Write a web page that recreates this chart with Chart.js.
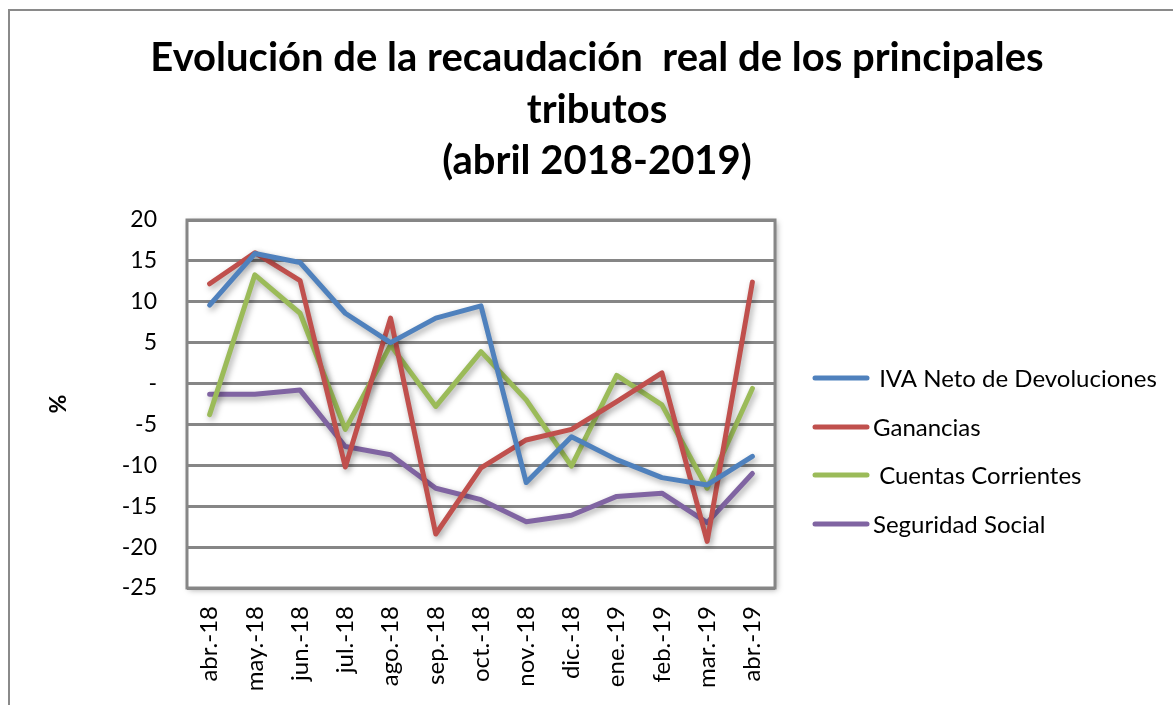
<!DOCTYPE html>
<html>
<head>
<meta charset="utf-8">
<script src="https://cdn.jsdelivr.net/npm/chart.js@4.4.1/dist/chart.umd.min.js"></script>
<style>
  html, body { margin: 0; padding: 0; background: #fff; }
  #wrap { width: 1174px; height: 705px; }
</style>
</head>
<body>
<div id="wrap"><canvas id="myChart" width="1174" height="705"></canvas></div>
<script>
// Data
const months = ['abr.-18', 'may.-18', 'jun.-18', 'jul.-18', 'ago.-18', 'sep.-18', 'oct.-18',
                'nov.-18', 'dic.-18', 'ene.-19', 'feb.-19', 'mar.-19', 'abr.-19'];
const ivaNeto = [9.6, 15.9, 14.8, 8.6, 5.0, 8.0, 9.5, -12.1, -6.5, -9.3, -11.5, -12.4, -8.9];
const ganancias = [12.2, 16.0, 12.6, -10.2, 8.0, -18.4, -10.3, -6.9, -5.6, -2.2, 1.3, -19.3, 12.4];
const cuentasCorrientes = [-3.8, 13.3, 8.6, -5.6, 4.7, -2.8, 3.9, -2.0, -10.1, 1.0, -2.6, -12.8, -0.6];
const seguridadSocial = [-1.3, -1.3, -0.8, -7.7, -8.7, -12.8, -14.2, -16.9, -16.1, -13.8, -13.4, -17.0, -11.0];
const seriesNames = [' IVA Neto de Devoluciones', 'Ganancias', ' Cuentas Corrientes', 'Seguridad Social'];
const titleLines = ['Evolución de la recaudación  real de los principales', 'tributos', '(abril 2018-2019)'];

const colors = ['#4F81BD', '#C0504D', '#9BBB59', '#8064A2'];
const FONT = 'Lato, "Open Sans", sans-serif';

function makeSet(i, data) {
    return {
        label: seriesNames[i],
        data: data,
        borderColor: colors[i],
        backgroundColor: colors[i],
        borderWidth: 5,
        pointRadius: 0,
        tension: 0,
        borderCapStyle: 'round',
        borderJoinStyle: 'round'
    };
}

// Frame, plot box, title and legend drawn like the spreadsheet chart
const decor = {
    id: 'decor',
    beforeDraw(chart) {
        const ctx = chart.ctx;
        const a = chart.chartArea;
        ctx.save();
        ctx.fillStyle = '#fff';
        ctx.fillRect(0, 0, chart.width, chart.height);
        // outer frame (top and left only visible)
        ctx.strokeStyle = '#8a8a8a';
        ctx.lineWidth = 2;
        ctx.beginPath();
        ctx.moveTo(9, 705);
        ctx.lineTo(9, 10);
        ctx.lineTo(1173, 10);
        ctx.stroke();
        // plot box with shadow
        ctx.shadowColor = 'rgba(0,0,0,0.35)';
        ctx.shadowBlur = 6;
        ctx.shadowOffsetX = 2;
        ctx.shadowOffsetY = 2;
        ctx.fillRect(a.left, a.top, a.right - a.left, a.bottom - a.top);
        ctx.restore();

        // title
        ctx.save();
        ctx.fillStyle = '#000';
        ctx.font = 'bold 40px ' + FONT;
        ctx.textAlign = 'center';
        ctx.textBaseline = 'middle';
        const ys = [58, 110, 161];
        titleLines.forEach((t, i) => ctx.fillText(t, 597, ys[i]));
        ctx.restore();
    },
    beforeDatasetsDraw(chart) {
        const ctx = chart.ctx;
        const a = chart.chartArea;
        ctx.save();
        ctx.strokeStyle = '#868686';
        ctx.lineWidth = 3;
        ctx.strokeRect(a.left, a.top, a.right - a.left, a.bottom - a.top);
        ctx.restore();
        // shadow for the lines
        ctx.save();
        ctx.shadowColor = 'rgba(0,0,0,0.35)';
        ctx.shadowBlur = 6;
        ctx.shadowOffsetX = 2;
        ctx.shadowOffsetY = 3;
    },
    afterDatasetsDraw(chart) {
        const ctx = chart.ctx;
        ctx.restore();
        // legend
        ctx.save();
        ctx.font = '24px ' + FONT;
        ctx.textBaseline = 'middle';
        ctx.fillStyle = '#000';
        const ly = [378, 427, 475, 524];
        chart.data.datasets.forEach((ds, i) => {
            ctx.strokeStyle = ds.borderColor;
            ctx.lineWidth = 5;
            ctx.lineCap = 'round';
            ctx.beginPath();
            ctx.moveTo(815, ly[i]);
            ctx.lineTo(867, ly[i]);
            ctx.stroke();
            ctx.fillText(ds.label, 873, ly[i] + 1);
        });
        ctx.restore();
    }
};

const ctx = document.getElementById('myChart').getContext('2d');
const myChart = new Chart(ctx, {
    type: 'line',
    data: {
        labels: months,
        datasets: [
            makeSet(0, ivaNeto),
            makeSet(1, ganancias),
            makeSet(2, cuentasCorrientes),
            makeSet(3, seguridadSocial)
        ]
    },
    options: {
        responsive: false,
        animation: false,
        events: [],
        layout: {
            padding: { top: 220, right: 399, bottom: 0, left: 0 }
        },
        plugins: {
            legend: { display: false },
            title: { display: false },
            tooltip: { enabled: false }
        },
        scales: {
            x: {
                offset: true,
                grid: { display: false, drawTicks: false },
                border: { display: false },
                ticks: {
                    autoSkip: false,
                    minRotation: 90,
                    maxRotation: 90,
                    padding: 18,
                    color: '#000',
                    font: { family: FONT, size: 24 }
                },
                afterFit(scale) { scale.height = 117; }
            },
            y: {
                min: -25,
                max: 20,
                ticks: {
                    stepSize: 5,
                    padding: 30,
                    color: '#000',
                    font: { family: FONT, size: 23 },
                    callback: v => (v === 0 ? '-' : v)
                },
                grid: { color: '#868686', lineWidth: 3, drawTicks: false },
                border: { display: false },
                title: {
                    display: true,
                    text: '%',
                    color: '#000',
                    font: { family: FONT, size: 23, weight: 'bold' },
                    padding: { top: 45, bottom: 0 }
                },
                afterFit(scale) { scale.width = 187; }
            }
        }
    },
    plugins: [decor]
});
</script>
</body>
</html>
